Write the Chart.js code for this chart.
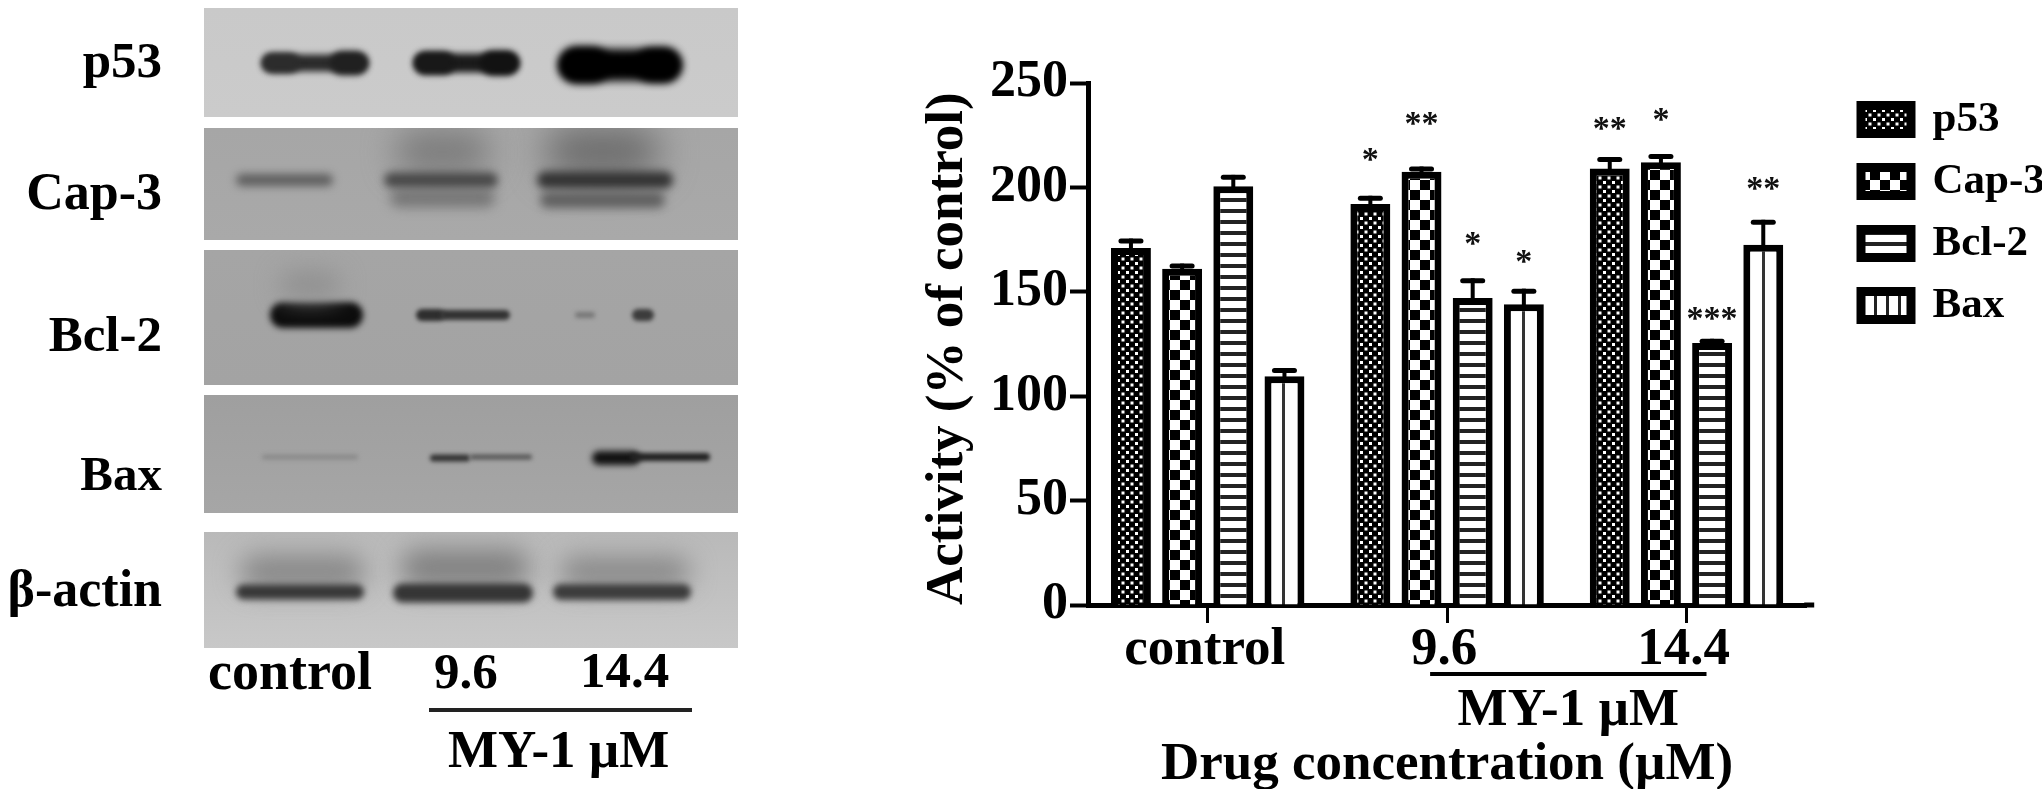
<!DOCTYPE html>
<html>
<head>
<meta charset="utf-8">
<script src="https://cdn.jsdelivr.net/npm/chart.js@4"></script>
<style>
  html, body { margin: 0; background: #fff; width: 2042px; height: 789px; overflow: hidden; }
  canvas { position: absolute; top: 0; filter: blur(0.45px); }
  #blot { left: 0; }
  #activityChart { left: 900px; }
  .blot-label { position: absolute; font-family: "Liberation Serif", serif; font-weight: bold; line-height: 1; color: #000; white-space: nowrap; filter: blur(0.4px); }
</style>
</head>
<body>
<canvas id="blot" width="900" height="789"></canvas>
<canvas id="activityChart" width="1142" height="789"></canvas>
<script>
const categories = ['control', '9.6', '14.4'];
const seriesNames = ['p53', 'Cap-3', 'Bcl-2', 'Bax'];
const p53Values = [171, 192, 209];
const cap3Values = [161, 207.5, 212];
const bcl2Values = [200.5, 147, 125.5];
const baxValues = [109.5, 144, 172.5];
const p53Errors = [4.5, 4, 5.5];
const cap3Errors = [2.5, 2.5, 4];
const bcl2Errors = [5.5, 9.5, 2];
const baxErrors = [4, 7.5, 12];
const yTicks = [0, 50, 100, 150, 200, 250];

// star text, series index, category index, value where the star is centred
const significance = [
  ['*', 0, 1, 216], ['**', 1, 1, 233], ['*', 2, 1, 176], ['*', 3, 1, 167],
  ['**', 0, 2, 231], ['*', 1, 2, 235], ['***', 2, 2, 140], ['**', 3, 2, 202]
];

const blotNames = ['p53', 'Cap-3', 'Bcl-2', 'Bax', 'β-actin'];

function makeTile(w, h, draw) {
  const c = document.createElement('canvas');
  c.width = w;
  c.height = h;
  const g = c.getContext('2d');
  g.fillStyle = '#fff';
  g.fillRect(0, 0, w, h);
  g.fillStyle = '#000';
  draw(g);
  return g.createPattern(c, 'repeat');
}

// white dots on black, staggered
const finePattern = makeTile(9, 9, function(g) {
  g.fillRect(0, 0, 9, 9);
  g.fillStyle = '#fff';
  g.fillRect(1, 1, 3, 3);
  g.fillRect(5.5, 5.5, 3, 3);
});
const checkPattern = makeTile(20, 20, function(g) {
  g.fillRect(0, 0, 10, 10);
  g.fillRect(10, 10, 10, 10);
});
const stripePattern = makeTile(11, 11, function(g) {
  g.fillStyle = '#222';
  g.fillRect(0, 0, 11, 4);
});
const columnPattern = makeTile(20, 20, function(g) {
  g.fillStyle = '#333';
  g.fillRect(2, 0, 3, 20);
});
const columnLegendPattern = makeTile(12, 12, function(g) {
  g.fillStyle = '#222';
  g.fillRect(2, 0, 3, 12);
});

const errorLists = [p53Errors, cap3Errors, bcl2Errors, baxErrors];

const errorBars = {
  id: 'errorBars',
  beforeDatasetsDraw: function(chart) {
    const ctx = chart.ctx;
    const yScale = chart.scales.y;
    ctx.save();
    ctx.strokeStyle = '#000';
    chart.data.datasets.forEach(function(ds, i) {
      chart.getDatasetMeta(i).data.forEach(function(bar, j) {
        const top = yScale.getPixelForValue(ds.data[j] + errorLists[i][j]);
        ctx.lineWidth = 4;
        ctx.lineCap = 'butt';
        ctx.beginPath();
        ctx.moveTo(bar.x, bar.y + 2);
        ctx.lineTo(bar.x, top);
        ctx.stroke();
        ctx.lineWidth = 5;
        ctx.lineCap = 'round';
        ctx.beginPath();
        ctx.moveTo(bar.x - 10, top + 2.5);
        ctx.lineTo(bar.x + 10, top + 2.5);
        ctx.stroke();
      });
    });
    ctx.restore();
  }
};

const annotations = {
  id: 'annotations',
  afterLayout: function(chart) {
    const legend = chart.legend;
    const w = legend.width;
    const h = legend.height;
    legend.left = 942;
    legend.right = legend.left + w;
    legend.top = 79;
    legend.bottom = legend.top + h;
  },
  afterDraw: function(chart) {
    const ctx = chart.ctx;
    const xScale = chart.scales.x;
    const yScale = chart.scales.y;
    ctx.save();
    ctx.fillStyle = '#111';
    ctx.textAlign = 'center';
    ctx.textBaseline = 'alphabetic';
    ctx.font = 'bold 34px "Liberation Serif", serif';
    significance.forEach(function(s) {
      const bar = chart.getDatasetMeta(s[1]).data[s[2]];
      ctx.fillText(s[0], bar.x, yScale.getPixelForValue(s[3]) + 16);
    });

    // axis line runs on a little past the last category
    ctx.strokeStyle = '#000';
    ctx.lineWidth = 5;
    ctx.beginPath();
    ctx.moveTo(xScale.right - 2, yScale.bottom);
    ctx.lineTo(xScale.right + 8, yScale.bottom);
    ctx.stroke();

    // bracket below the two MY-1 doses
    const x1 = xScale.getPixelForValue(1) - 17;
    const x2 = xScale.getPixelForValue(2) + 20;
    ctx.lineWidth = 4;
    ctx.beginPath();
    ctx.moveTo(x1, 674);
    ctx.lineTo(x2, 674);
    ctx.stroke();
    ctx.fillStyle = '#000';
    ctx.font = 'bold 53px "Liberation Serif", serif';
    ctx.fillText('MY-1 µM', (x1 + x2) / 2, 725);
    ctx.restore();
  }
};

const patterns = [finePattern, checkPattern, stripePattern, columnPattern];
const values = [p53Values, cap3Values, bcl2Values, baxValues];

const datasets = seriesNames.map(function(name, i) {
  return {
    label: name,
    data: values[i],
    backgroundColor: patterns[i],
    borderColor: '#000',
    borderWidth: 7,
    borderSkipped: 'start',
    barPercentage: 0.78,
    categoryPercentage: 0.855
  };
});

const chart = new Chart(document.getElementById('activityChart').getContext('2d'), {
  type: 'bar',
  data: { labels: categories, datasets: datasets },
  plugins: [errorBars, annotations],
  options: {
    responsive: false,
    animation: false,
    layout: { padding: { top: 83, right: 23, left: 0, bottom: 0 } },
    plugins: {
      tooltip: { enabled: false },
      legend: {
        position: 'right',
        align: 'start',
        onClick: null,
        labels: {
          boxWidth: 50,
          boxHeight: 28,
          padding: 19,
          color: '#000',
          font: { family: '"Liberation Serif", serif', size: 43, weight: 'bold' },
          generateLabels: function(c) {
            const items = Chart.defaults.plugins.legend.labels.generateLabels(c);
            items.forEach(function(item) { item.lineWidth = 9; });
            items[3].fillStyle = columnLegendPattern;
            return items;
          }
        }
      }
    },
    scales: {
      x: {
        afterFit: function(s) { s.height = 184; },
        border: { color: '#000', width: 5 },
        grid: { offset: false, drawOnChartArea: false, drawTicks: true, tickLength: 18, tickWidth: 3, tickColor: '#000' },
        ticks: {
          color: '#000',
          padding: -4,
          labelOffset: -3,
          maxRotation: 0,
          autoSkip: false,
          font: { family: '"Liberation Serif", serif', size: 53, weight: 'bold' }
        },
        title: {
          display: true,
          text: 'Drug concentration (µM)',
          color: '#000',
          padding: { top: 0, bottom: -8 },
          font: { family: '"Liberation Serif", serif', size: 53, weight: 'bold' }
        }
      },
      y: {
        min: 0,
        max: 250,
        afterFit: function(s) { s.width = 188; },
        afterBuildTicks: function(s) {
          s.ticks = yTicks.map(function(v) { return { value: v }; });
        },
        border: { color: '#000', width: 5 },
        grid: { drawOnChartArea: false, drawTicks: true, tickLength: 18, tickWidth: 4, tickColor: '#000' },
        ticks: {
          color: '#000',
          padding: 2,
          font: { family: '"Liberation Serif", serif', size: 52, weight: 'bold' }
        },
        title: {
          display: true,
          text: 'Activity (% of control)',
          align: 'start',
          color: '#000',
          padding: { top: 17, bottom: 0 },
          font: { family: '"Liberation Serif", serif', size: 53, weight: 'bold' }
        }
      }
    }
  }
});

// western blot panels on the left: [top, bottom, background top, background bottom]
const blotPanels = [
  [8, 117, '#c9c9c9', '#cbcbcb'],
  [128, 240, '#a6a6a6', '#a9a9a9'],
  [250, 385, '#a5a5a5', '#a3a3a3'],
  [395, 513, '#9f9f9f', '#a6a6a6'],
  [532, 648, '#b9b9b9', '#c8c8c8']
];
// [x1, x2, centre y, height, colour, blur]
const blotBands = [
  [262, 368, 63, 17, '#2a2a2a', 3], [262, 300, 63, 20, '#2c2c2c', 3], [330, 368, 63, 24, '#202020', 3],
  [414, 519, 63, 19, '#1a1a1a', 3], [414, 455, 63, 23, '#181818', 3], [480, 519, 63, 25, '#121212', 3],
  [559, 681, 65, 32, '#000', 4], [559, 610, 65, 36, '#000', 4], [635, 681, 65, 34, '#000', 4],
  [395, 490, 152, 44, '#7c7c7c', 16], [545, 660, 152, 50, '#6c6c6c', 18], [390, 495, 198, 18, '#767676', 6], [540, 665, 200, 16, '#606060', 5],
  [236, 333, 180, 12, '#5e5e5e', 4], [384, 498, 180, 15, '#484848', 4], [537, 673, 180, 17, '#343434', 4],
  [270, 363, 315, 26, '#0c0c0c', 3], [416, 445, 315, 12, '#2e2e2e', 2], [440, 510, 315, 10, '#333', 2],
  [280, 340, 285, 28, '#909090', 12],
  [575, 595, 315, 6, '#777', 2], [632, 654, 315, 12, '#3c3c3c', 2],
  [262, 358, 457, 5, '#8a8a8a', 2], [430, 470, 458, 7, '#333', 2], [470, 532, 457, 5, '#555', 2],
  [592, 640, 458, 14, '#111', 3], [630, 710, 457, 8, '#222', 2],
  [240, 365, 572, 34, '#868686', 13], [400, 530, 568, 38, '#808080', 13], [560, 690, 572, 30, '#868686', 13],
  [236, 364, 592, 15, '#383838', 3], [393, 533, 593, 19, '#353535', 3], [553, 691, 592, 16, '#3c3c3c', 3]
];

const blotCtx = document.getElementById('blot').getContext('2d');
blotPanels.forEach(function(p) {
  const g = blotCtx.createLinearGradient(0, p[0], 0, p[1]);
  g.addColorStop(0, p[2]);
  g.addColorStop(1, p[3]);
  blotCtx.fillStyle = g;
  blotCtx.fillRect(204, p[0], 534, p[1] - p[0]);
});
blotBands.forEach(function(b) {
  const panel = blotPanels.find(function(p) { return b[2] >= p[0] && b[2] <= p[1]; });
  blotCtx.save();
  blotCtx.beginPath();
  blotCtx.rect(204, panel[0], 534, panel[1] - panel[0]);
  blotCtx.clip();
  blotCtx.filter = 'blur(' + b[5] + 'px)';
  blotCtx.fillStyle = b[4];
  blotCtx.beginPath();
  blotCtx.roundRect(b[0], b[2] - b[3] / 2, b[1] - b[0], b[3], b[3] / 2);
  blotCtx.fill();
  blotCtx.restore();
});
blotCtx.fillStyle = '#222';
blotCtx.fillRect(429, 708, 263, 4);

function addLabel(text, x, baseline, size, alignRight) {
  const el = document.createElement('div');
  el.className = 'blot-label';
  el.textContent = text;
  el.style.fontSize = size + 'px';
  el.style.top = (baseline - size * 0.8375) + 'px';
  if (alignRight) {
    el.style.right = (2042 - x) + 'px';
  } else {
    el.style.left = x + 'px';
  }
  document.body.appendChild(el);
}
const blotBaselines = [78, 210, 352, 490, 607];
const blotSizes = [51, 52, 51, 49, 52];
blotNames.forEach(function(name, i) {
  addLabel(name, 162, blotBaselines[i], blotSizes[i], true);
});
addLabel('control', 208, 689, 54);
addLabel('9.6', 434, 689, 51);
addLabel('14.4', 580, 688, 51);
addLabel('MY-1 µM', 448, 767, 53);
</script>
</body>
</html>
